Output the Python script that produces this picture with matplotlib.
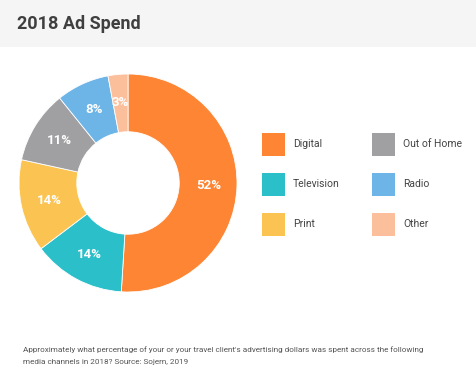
import matplotlib
matplotlib.use("Agg")
import matplotlib.pyplot as plt
from matplotlib.patches import Rectangle

plt.rcParams['font.family'] = ['Roboto', 'DejaVu Sans']

channels = ['Digital', 'Television', 'Print', 'Out of Home', 'Radio', 'Other']
shares = [52, 14, 14, 11, 8, 3]
colors = ['#fd8533', '#2bbfca', '#fbc452', '#a0a0a2', '#6db4e7', '#fcbf9c']

W, H = 476, 371
fig = plt.figure(figsize=(W / 100, H / 100), dpi=100)
fig.patch.set_facecolor('white')

# title band
fig.patches.append(Rectangle((0, 1 - 47 / H), 1, 47 / H, transform=fig.transFigure,
                             facecolor='#f5f5f5', edgecolor='none', zorder=0))
fig.text(17 / W, 1 - 24 / H, '2018 Ad Spend', fontsize=13, fontweight='bold',
         color='#3f3f3f', va='center', ha='left')

# donut
cx, cy, r = 128, 371 - 183, 109
ax = fig.add_axes([(cx - r) / W, (cy - r) / H, 2 * r / W, 2 * r / H])
wedges, texts = ax.pie(shares, colors=colors, startangle=90, counterclock=False,
                       radius=1, labels=[f'{v}%' for v in shares], labeldistance=0.74,
                       wedgeprops=dict(width=0.53, edgecolor='white', linewidth=0.6))
for t in texts:
    t.set_ha('center')
    t.set_va('center')
    t.set_color('white')
    t.set_fontweight('bold')
    t.set_fontsize(9.5)
ax.set_xlim(-1, 1)
ax.set_ylim(-1, 1)
ax.set_aspect('equal')
ax.axis('off')

# legend
col_x = [262, 372]
row_y = [144, 184, 224]
sq = 23
for i, (name, c) in enumerate(zip(channels, colors)):
    col, row = (0, i) if i < 3 else (1, i - 3)
    x0 = col_x[col]
    y0 = row_y[row]
    fig.patches.append(Rectangle((x0 / W, (H - y0 - sq / 2) / H), sq / W, sq / H,
                                 transform=fig.transFigure, facecolor=c, edgecolor='none'))
    fig.text((x0 + 31) / W, (H - y0) / H, name, fontsize=7.5, color='#444444',
             va='center', ha='left')

fig.text(23 / W, 1 - 350 / H,
         "Approximately what percentage of your or your travel client's advertising dollars was spent across the following",
         fontsize=5.85, color='#555555', va='center', ha='left')
fig.text(23 / W, 1 - 362 / H, 'media channels in 2018? Source: Sojern, 2019',
         fontsize=5.85, color='#555555', va='center', ha='left')

fig.savefig('out.png', dpi=100, facecolor='white')
